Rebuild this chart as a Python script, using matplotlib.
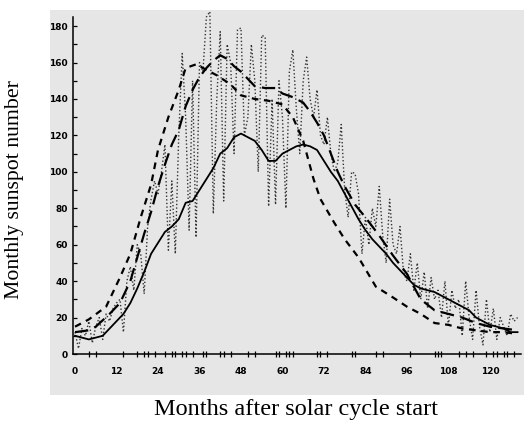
import matplotlib
matplotlib.use("Agg")
import matplotlib.pyplot as plt
import numpy as np
from matplotlib.patches import Rectangle

# ---------------- data ----------------
# solid line: smoothed cycle
solid_months = [0, 2, 4, 6, 8, 10, 12, 14, 16, 18, 20, 22, 24, 26, 28, 30, 32, 34, 36, 38,
                40, 42, 44, 46, 48, 50, 52, 54, 56, 58, 60, 62, 64, 66, 68, 70, 72, 74, 76, 78,
                80, 82, 84, 86, 88, 90, 92, 94, 96, 98, 100, 102, 104, 106, 108, 110, 112, 114,
                116, 118, 120, 122, 124, 126, 128]
solid_vals = [10, 9, 8, 9, 10, 14, 18, 22, 28, 36, 45, 55, 61, 67, 70, 74, 83, 84, 90, 96,
              102, 110, 113, 119, 121, 119, 117, 112, 106, 106, 110, 112, 114, 115, 114, 112, 106, 100, 95, 88,
              81, 74, 68, 63, 59, 55, 50, 46, 42, 38, 36, 35, 34, 32, 30, 28, 26, 24,
              20, 18, 16, 15, 14, 12, 12]

# short-dashed line: early rising cycle
dash_months = [0, 4, 9, 13, 16, 19, 22, 24, 27, 30, 32, 35, 38, 41, 45, 48, 52, 56, 60, 63,
               66, 69, 71, 75, 78, 82, 87, 92, 96, 100, 104, 108, 112, 116, 120, 124, 128]
dash_vals = [15, 19, 26, 42, 55, 75, 93, 112, 130, 145, 157, 159, 156, 153, 148, 142, 140, 139, 137, 130,
             117, 96, 85, 72, 63, 53, 37, 31, 26, 22, 17, 16, 14, 13, 12, 12, 11]

# long-dashed line
ldash_months = [0, 4, 6, 10, 13, 16, 18, 20, 22, 24, 26, 28, 30, 32, 34, 36, 38, 40, 42, 44,
                46, 48, 50, 52, 55, 58, 60, 63, 66, 68, 70, 72, 74, 76, 78, 81, 84, 88, 92, 96,
                98, 100, 104, 108, 112, 116, 120, 124, 128]
ldash_vals = [12, 13, 15, 22, 28, 40, 53, 66, 78, 92, 104, 115, 123, 136, 145, 152, 157, 161, 164, 162,
              158, 155, 151, 147, 146, 146, 143, 141, 138, 133, 127, 120, 110, 100, 92, 82, 75, 65, 54, 44,
              37, 30, 24, 22, 20, 17, 15, 14, 13]

# dotted line: raw monthly values
dot_months = list(range(0, 129))
dot_vals = [12, 3, 14, 10, 18, 6, 15, 20, 8, 22, 18,
            25, 28, 30, 12, 40, 48, 35, 60, 55, 33,
            70, 85, 95, 88, 100, 115, 57, 95, 55, 120,
            165, 130, 68, 150, 64, 160, 155, 185, 188, 77,
            140, 177, 84, 170, 160, 110, 178, 179, 120, 130,
            170, 150, 100, 175, 174, 81, 140, 82, 150, 130,
            80, 155, 167, 135, 110, 150, 163, 140, 130, 145,
            120, 115, 130, 110, 100, 105, 126, 90, 75, 100,
            99, 88, 55, 75, 60, 80, 70, 92, 65, 50,
            85, 60, 55, 70, 45, 40, 55, 35, 50, 30,
            45, 25, 42, 30, 35, 20, 40, 15, 35, 25,
            30, 10, 40, 20, 8, 35, 15, 5, 30, 12,
            25, 8, 20, 15, 10, 22, 18, 20]

x_ticks = [0, 12, 24, 36, 48, 60, 72, 84, 96, 108, 120]
y_ticks = [0, 20, 40, 60, 80, 100, 120, 140, 160, 180]
x_minor = [4, 6, 12, 14, 18, 20, 21, 23, 24, 26, 28, 29, 31, 32, 34, 36, 37, 38, 42, 43, 45,
           50, 52, 58, 59, 61, 62, 63, 70, 71, 73, 80, 81, 87, 89, 97, 104, 105, 106, 111,
           113, 115, 119, 121, 122, 124, 125, 127]

# ---------------- figure ----------------
W, H = 524, 423
fig = plt.figure(figsize=(W / 100, H / 100), dpi=100)
fig.patch.set_facecolor("white")
bg = "#e6e6e6"
fig.patches.append(Rectangle((50 / W, 1 - 395 / H), 474 / W, 385 / H,
                             transform=fig.transFigure, facecolor=bg, edgecolor="none", zorder=-5))

ax = fig.add_axes([73.3 / W, 1 - 354 / H, (521 - 73.3) / W, 337 / H])
ax.set_zorder(1)
ax.set_facecolor(bg)
ax.set_xlim(-0.5, 129)
ax.set_ylim(0, 185)

ax.plot(dot_months, dot_vals, color="#333333", lw=1.0, linestyle=(0, (1, 1.6)), clip_on=False, zorder=2)
ax.plot(ldash_months, ldash_vals, color="black", lw=1.6, linestyle=(0, (6, 3)), zorder=3)
ax.plot(dash_months, dash_vals, color="black", lw=1.6, linestyle=(0, (3, 2.5)), zorder=3)
ax.plot(solid_months, solid_vals, color="black", lw=1.3, zorder=4)

for s in ["top", "right"]:
    ax.spines[s].set_visible(False)
for s in ["left", "bottom"]:
    ax.spines[s].set_linewidth(1.1)
    ax.spines[s].set_color("black")

tick_font = dict(family=["Liberation Sans Narrow", "DejaVu Sans"], weight="bold", size=6.5)
ax.set_xticks(x_ticks)
ax.set_xticklabels([str(v) for v in x_ticks], **tick_font)
ax.set_xticks(x_minor, minor=True)
ax.set_yticks(y_ticks)
ax.set_yticklabels([str(v) for v in y_ticks], **tick_font)
ax.set_yticks(np.arange(10, 185, 20), minor=True)

ax.tick_params(axis="x", which="major", length=0, pad=9)
ax.tick_params(axis="x", which="minor", direction="inout", length=5, width=0.9)
ax.tick_params(axis="y", which="both", direction="in", length=3, width=0.9, pad=4)

fig.text(296 / W, 1 - 409 / H, "Months after solar cycle start",
         family=["Liberation Serif", "DejaVu Serif"], size=17.5, ha="center", va="center")
fig.text(15 / W, 1 - 190 / H, "Monthly sunspot number",
         family=["Liberation Serif", "DejaVu Serif"], size=15.7, ha="center", va="center",
         rotation=90)

fig.savefig("out.png", dpi=100, facecolor="white")
